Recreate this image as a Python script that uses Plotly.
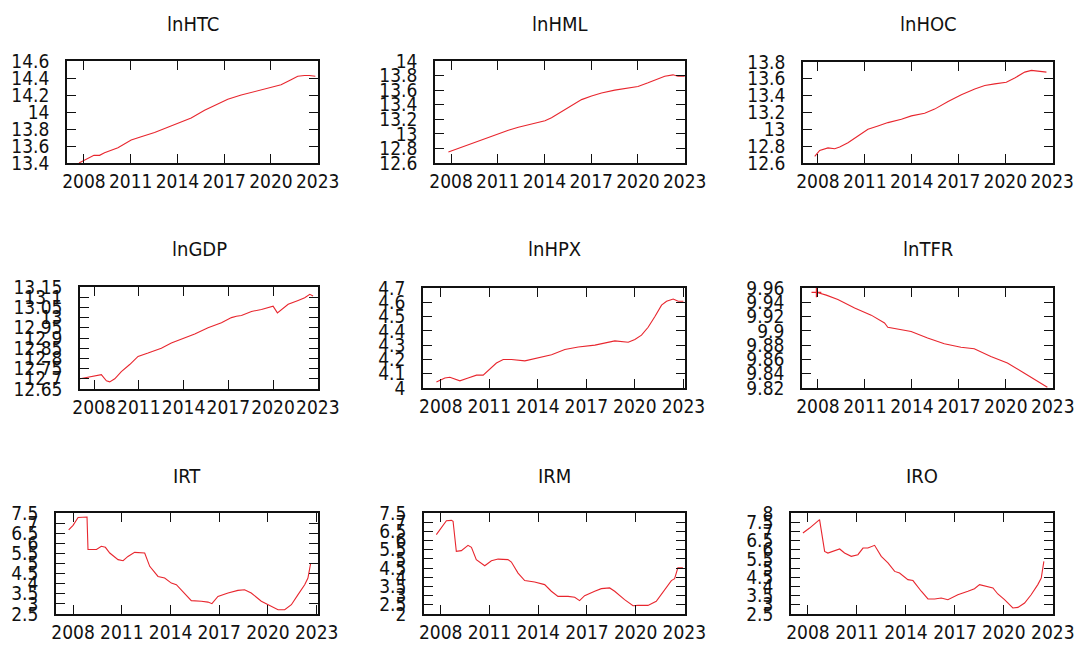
import plotly.graph_objects as go

# ---------------- data ----------------
year_ticks = [2008, 2011, 2014, 2017, 2020, 2023]
year_labels = ["2008", "2011", "2014", "2017", "2020", "2023"]

titles = ["lnHTC", "lnHML", "lnHOC", "lnGDP", "lnHPX", "lnTFR", "IRT", "IRM", "IRO"]

htc_t = [2007.68, 2008.26, 2008.64, 2009.0, 2009.32, 2010.18, 2011.03, 2011.67, 2012.53, 2013.38,
         2014.24, 2014.88, 2015.74, 2016.6, 2017.23, 2018.09, 2018.94, 2020.0, 2020.65, 2021.29,
         2021.72, 2022.15, 2022.47, 2022.85]
htc_v = [13.40, 13.46, 13.49, 13.49, 13.52, 13.58, 13.67, 13.71, 13.76, 13.82,
         13.88, 13.93, 14.02, 14.10, 14.15, 14.20, 14.24, 14.29, 14.32, 14.38,
         14.42, 14.43, 14.43, 14.42]

hml_t = [2007.83, 2008.47, 2009.11, 2009.75, 2010.39, 2011.03, 2011.68, 2012.32, 2013.17, 2014.03,
         2014.45, 2015.09, 2015.74, 2016.38, 2017.02, 2017.66, 2018.51, 2019.58, 2020.0, 2020.65,
         2021.29, 2021.72, 2022.25, 2022.57, 2023.0]
hml_v = [12.75, 12.80, 12.85, 12.91, 12.96, 13.00, 13.05, 13.09, 13.13, 13.18,
         13.22, 13.30, 13.39, 13.47, 13.52, 13.56, 13.60, 13.63, 13.65, 13.70,
         13.76, 13.79, 13.81, 13.79, 13.79]

hoc_t = [2007.79, 2008.11, 2008.64, 2009.07, 2009.39, 2009.92, 2010.56, 2011.2, 2011.84, 2012.48,
         2013.34, 2013.98, 2014.83, 2015.47, 2016.33, 2017.18, 2018.04, 2018.68, 2019.32, 2020.06,
         2020.6, 2021.24, 2021.67, 2022.09, 2022.63]
hoc_v = [12.68, 12.75, 12.78, 12.77, 12.79, 12.84, 12.92, 13.00, 13.04, 13.08,
         13.12, 13.16, 13.19, 13.24, 13.33, 13.41, 13.48, 13.52, 13.54, 13.56,
         13.61, 13.68, 13.70, 13.69, 13.68]

gdp_t = [2007.06, 2007.82, 2008.49, 2008.83, 2009.05, 2009.39, 2009.83, 2010.39, 2010.95, 2011.62,
         2012.51, 2013.18, 2014.08, 2014.75, 2015.64, 2016.54, 2017.21, 2017.54, 2017.88, 2018.55,
         2019.22, 2020.0, 2020.29, 2020.56, 2021.01, 2021.68, 2022.12, 2022.46, 2022.68]
gdp_v = [12.70, 12.71, 12.72, 12.69, 12.685, 12.70, 12.735, 12.77, 12.81, 12.826,
         12.85, 12.875, 12.90, 12.92, 12.95, 12.975, 13.00, 13.007, 13.01, 13.03,
         13.04, 13.056, 13.023, 13.04, 13.065, 13.084, 13.097, 13.114, 13.106]

hpx_t = [2007.73, 2008.25, 2008.56, 2009.18, 2009.69, 2010.21, 2010.62, 2011.03, 2011.44, 2011.86,
         2012.37, 2013.2, 2014.02, 2014.85, 2015.67, 2016.5, 2017.53, 2018.35, 2018.76, 2019.59,
         2020.0, 2020.41, 2020.82, 2021.24, 2021.65, 2021.96, 2022.37, 2022.68, 2023.0]
hpx_v = [4.042, 4.07, 4.075, 4.05, 4.07, 4.09, 4.09, 4.13, 4.175, 4.20,
         4.20, 4.19, 4.21, 4.233, 4.27, 4.287, 4.30, 4.32, 4.33, 4.32,
         4.34, 4.37, 4.425, 4.50, 4.58, 4.607, 4.623, 4.607, 4.607]

tfr_t = [2007.9, 2008.53, 2009.27, 2010.34, 2011.4, 2012.25, 2012.46, 2012.88, 2013.95, 2015.0,
         2016.07, 2017.13, 2017.98, 2019.04, 2020.1, 2021.16, 2022.01, 2022.65]
tfr_v = [9.954, 9.950, 9.944, 9.932, 9.922, 9.911, 9.905, 9.903, 9.899, 9.890,
         9.882, 9.877, 9.875, 9.864, 9.855, 9.841, 9.829, 9.821]

irt_t = [2007.73, 2008.0, 2008.31, 2008.86, 2008.92, 2009.44, 2009.74, 2009.99, 2010.26, 2010.77,
         2011.08, 2011.38, 2011.79, 2012.2, 2012.41, 2012.72, 2013.23, 2013.64, 2014.05, 2014.36,
         2014.87, 2015.28, 2015.9, 2016.31, 2016.55, 2016.92, 2017.54, 2018.15, 2018.56, 2018.97,
         2019.59, 2020.21, 2020.62, 2021.03, 2021.44, 2021.85, 2022.26, 2022.46, 2022.63]
irt_v = [6.67, 6.89, 7.28, 7.30, 5.69, 5.69, 5.85, 5.80, 5.52, 5.19,
         5.14, 5.35, 5.55, 5.52, 5.52, 4.86, 4.36, 4.28, 4.03, 3.95,
         3.49, 3.16, 3.13, 3.09, 3.01, 3.37, 3.54, 3.67, 3.70, 3.54,
         3.13, 2.88, 2.71, 2.71, 2.96, 3.46, 3.95, 4.28, 5.02]

irm_t = [2007.73, 2008.04, 2008.35, 2008.66, 2008.76, 2008.96, 2009.27, 2009.68, 2009.89, 2010.19,
         2010.71, 2011.12, 2011.53, 2012.14, 2012.35, 2012.76, 2013.17, 2013.78, 2014.4, 2014.81,
         2015.22, 2015.84, 2016.25, 2016.55, 2016.86, 2017.48, 2017.89, 2018.4, 2018.71, 2019.32,
         2019.84, 2020.14, 2020.76, 2021.27, 2021.78, 2022.2, 2022.4, 2022.6, 2022.91]
irm_v = [6.32, 6.72, 7.08, 7.10, 7.05, 5.41, 5.45, 5.74, 5.63, 4.96,
         4.63, 4.90, 4.99, 4.96, 4.83, 4.23, 3.82, 3.74, 3.60, 3.24,
         2.96, 2.96, 2.91, 2.73, 3.00, 3.24, 3.38, 3.42, 3.24, 2.78,
         2.45, 2.47, 2.47, 2.69, 3.33, 3.82, 3.92, 4.51, 4.51]

iro_t = [2007.69, 2008.1, 2008.71, 2009.02, 2009.22, 2009.63, 2009.94, 2010.24, 2010.65, 2011.06,
         2011.37, 2011.67, 2012.08, 2012.49, 2012.9, 2013.31, 2013.61, 2014.12, 2014.43, 2014.94,
         2015.35, 2015.76, 2016.16, 2016.57, 2017.18, 2017.8, 2018.2, 2018.51, 2019.02, 2019.33,
         2019.63, 2020.04, 2020.55, 2020.86, 2021.27, 2021.67, 2022.08, 2022.29, 2022.45]
iro_v = [6.91, 7.18, 7.64, 5.91, 5.82, 5.95, 6.04, 5.82, 5.64, 5.73,
         6.09, 6.09, 6.24, 5.64, 5.28, 4.82, 4.73, 4.37, 4.32, 3.74,
         3.32, 3.32, 3.37, 3.28, 3.55, 3.74, 3.88, 4.10, 3.97, 3.92,
         3.59, 3.28, 2.83, 2.86, 3.10, 3.55, 4.10, 4.46, 5.37]

htc_ticks = ["13.4", "13.6", "13.8", "14", "14.2", "14.4", "14.6"]
hml_ticks = ["12.6", "12.8", "13", "13.2", "13.4", "13.6", "13.8", "14"]
hoc_ticks = ["12.6", "12.8", "13", "13.2", "13.4", "13.6", "13.8"]
gdp_ticks = ["12.65", "12.7", "12.75", "12.8", "12.85", "12.9", "12.95", "13", "13.05", "13.1", "13.15"]
hpx_ticks = ["4", "4.1", "4.2", "4.3", "4.4", "4.5", "4.6", "4.7"]
tfr_ticks = ["9.82", "9.84", "9.86", "9.88", "9.9", "9.92", "9.94", "9.96"]
irt_ticks = ["2.5", "3", "3.5", "4", "4.5", "5", "5.5", "6", "6.5", "7", "7.5"]
irm_ticks = ["2", "2.5", "3", "3.5", "4", "4.5", "5", "5.5", "6", "6.5", "7", "7.5"]
iro_ticks = ["2.5", "3", "3.5", "4", "4.5", "5", "5.5", "6", "6.5", "7", "7.5", "8"]

series = [
    (htc_t, htc_v, htc_ticks),
    (hml_t, hml_v, hml_ticks),
    (hoc_t, hoc_v, hoc_ticks),
    (gdp_t, gdp_v, gdp_ticks),
    (hpx_t, hpx_v, hpx_ticks),
    (tfr_t, tfr_v, tfr_ticks),
    (irt_t, irt_v, irt_ticks),
    (irm_t, irm_v, irm_ticks),
    (iro_t, iro_v, iro_ticks),
]

# ---------------- layout (pixel boxes) ----------------
W, H = 1084, 647
boxes = [  # left, right, top, bottom in pixels
    (59, 310, 53, 155), (427, 677, 53, 155), (795, 1045, 54, 155),
    (72, 310, 279, 381), (415, 677, 280, 380), (794, 1045, 280, 380),
    (48, 310, 505, 606), (416, 677, 505, 606), (783, 1045, 505, 606),
]
xranges = [
    (2006.91, 2023.02), (2006.97, 2023.02), (2007.04, 2023.05),
    (2007.06, 2023.01), (2006.9, 2023.1), (2006.98, 2023.01),
    (2006.95, 2023.08), (2006.97, 2023.04), (2006.96, 2023.01),
]
title_top = [3, 3, 3, 228, 228, 228, 455, 455, 455]

RED = "#e8262e"
INK = "#111111"
FONT = "DejaVu Sans Condensed, DejaVu Sans, sans-serif"
TICK_SIZE = 19

fig = go.Figure()
layout = dict(
    width=W, height=H,
    margin=dict(l=0, r=0, t=0, b=0, pad=0, autoexpand=False),
    paper_bgcolor="white", plot_bgcolor="white",
    showlegend=False,
    font=dict(family=FONT, size=TICK_SIZE, color=INK),
    annotations=[],
)

for i, (t, v, ticks) in enumerate(series):
    n = i + 1
    xa = "x" if n == 1 else f"x{n}"
    ya = "y" if n == 1 else f"y{n}"
    fig.add_trace(go.Scatter(x=t, y=v, mode="lines", line=dict(color=RED, width=1.1),
                             xaxis=xa, yaxis=ya, hoverinfo="skip"))
    L, R, T, B = boxes[i]
    tickvals = [float(s) for s in ticks]
    common = dict(showline=True, mirror="ticks", linecolor=INK, linewidth=1.6,
                  ticks="inside", ticklen=9, tickwidth=1.3, tickcolor=INK,
                  showgrid=False, zeroline=False, fixedrange=True, automargin=False,
                  tickfont=dict(family=FONT, size=TICK_SIZE, color=INK))
    layout["xaxis" if n == 1 else f"xaxis{n}"] = dict(
        domain=[L / W, R / W], anchor=ya, range=list(xranges[i]),
        tickmode="array", tickvals=year_ticks, ticktext=year_labels, tickangle=0,
        ticklabelstandoff=0, **common)
    layout["yaxis" if n == 1 else f"yaxis{n}"] = dict(
        domain=[1 - B / H, 1 - T / H], anchor=xa,
        range=[tickvals[0], tickvals[-1]],
        tickmode="array", tickvals=tickvals, ticktext=ticks,
        ticklabelstandoff=12, **common)
    layout["annotations"].append(dict(
        text=titles[i], x=(L + R) / 2 / W, y=1 - title_top[i] / H, xref="paper", yref="paper",
        xanchor="center", yanchor="top", showarrow=False, borderpad=0,
        font=dict(family=FONT, size=20, color=INK)))

# start marker on lnTFR (first observation)
fig.add_trace(go.Scatter(x=[tfr_t[0]], y=[tfr_v[0]], mode="markers", xaxis="x6", yaxis="y6",
                         marker=dict(symbol="cross-thin", size=7, line=dict(color=RED, width=1.2)),
                         hoverinfo="skip"))

fig.update_layout(**layout)
fig.write_html("out.html")
